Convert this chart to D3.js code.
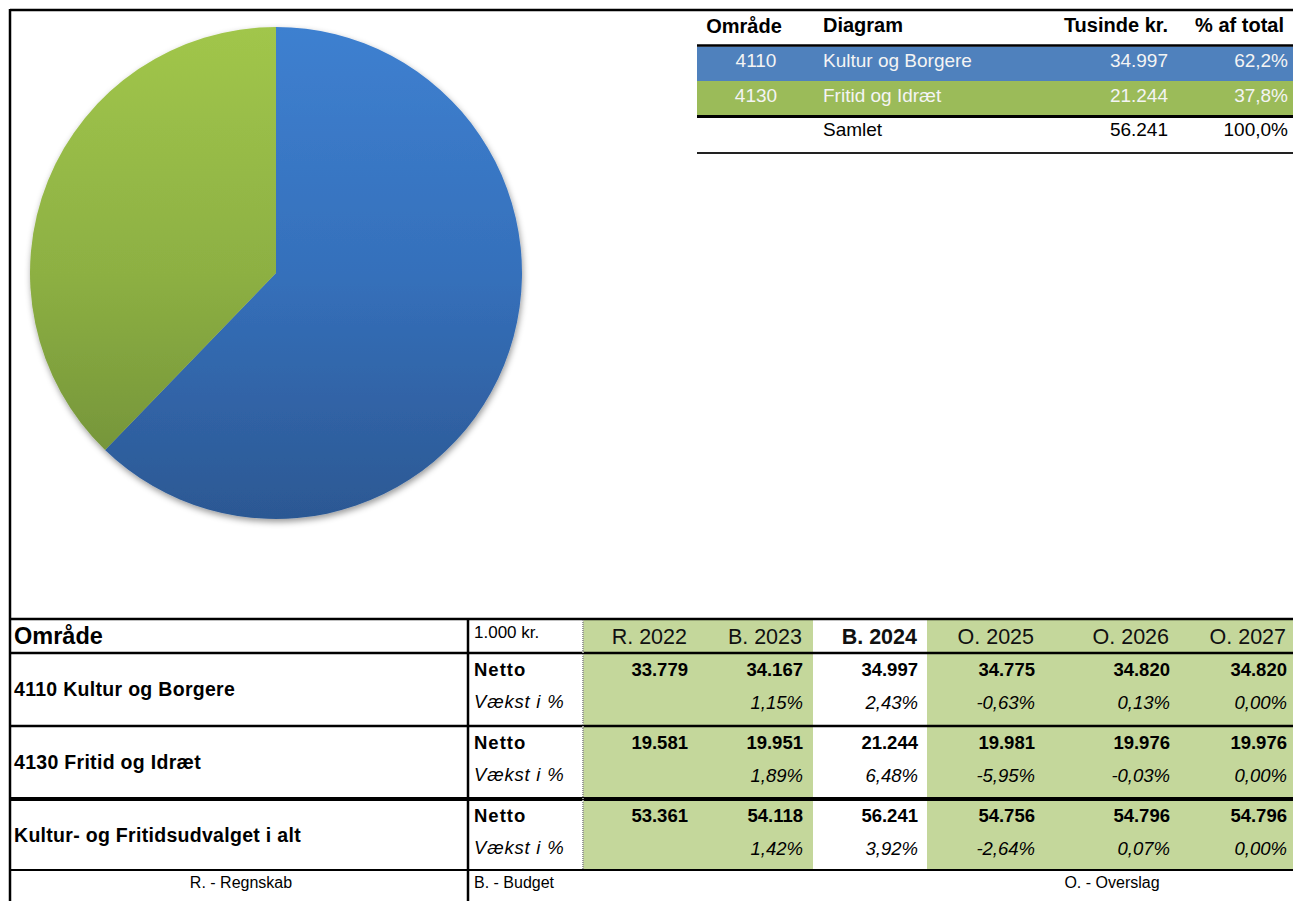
<!DOCTYPE html>
<html>
<head>
<meta charset="utf-8">
<script src="https://cdn.jsdelivr.net/npm/d3@7"></script>
<style>
  body { margin: 0; background: #fff; }
  svg { display: block; font-family: "Liberation Sans", Arial, sans-serif; }
  .line { stroke: #000; }
</style>
</head>
<body>
<div id="chart"></div>
<script>
// pie / top table data
const areaCodes = ["4110", "4130"];
const areaNames = ["Kultur og Borgere", "Fritid og Idræt"];
const areaAmounts = [34997, 21244];
const totalLabel = "Samlet";

// bottom table data
const years = ["R. 2022", "B. 2023", "B. 2024", "O. 2025", "O. 2026", "O. 2027"];
const rowLabels = ["4110 Kultur og Borgere", "4130 Fritid og Idræt", "Kultur- og Fritidsudvalget i alt"];
const nettoKultur = [33779, 34167, 34997, 34775, 34820, 34820];
const nettoFritid = [19581, 19951, 21244, 19981, 19976, 19976];
const nettoTotal = [53361, 54118, 56241, 54756, 54796, 54796];
const growthKultur = [null, 1.15, 2.43, -0.63, 0.13, 0.00];
const growthFritid = [null, 1.89, 6.48, -5.95, -0.03, 0.00];
const growthTotal = [null, 1.42, 3.92, -2.64, 0.07, 0.00];
const footNotes = ["R. - Regnskab", "B. - Budget", "O. - Overslag"];

const width = 1293, height = 901;
const da = d3.formatLocale({ decimal: ",", thousands: ".", grouping: [3], currency: ["", " kr."], minus: "-" });
const fmtNum = da.format(",d");
const fmtPct1 = da.format(".1%");
const fmtPct2 = v => da.format(".2f")(v) + "%";

const svg = d3.select("#chart").append("svg")
    .attr("width", width)
    .attr("height", height);

const radius = 246;
const defs = svg.append("defs");
function grad(id, stops) {
    // pie paths are drawn around (0,0), so the gradient runs -r..r
    const g = defs.append("linearGradient").attr("id", id)
        .attr("gradientUnits", "userSpaceOnUse")
        .attr("x1", 0).attr("x2", 0).attr("y1", -radius).attr("y2", radius);
    stops.forEach(s => g.append("stop").attr("offset", s[0]).attr("stop-color", s[1]));
}
grad("g-blue", [[0, "#3e80d0"], [0.5, "#3570bb"], [1, "#2c5893"]]);
grad("g-green", [[0, "#a1c64b"], [0.5, "#8db043"], [0.86, "#76963a"], [1, "#6f8d36"]]);
defs.append("filter").attr("id", "shadow")
    .attr("x", "-10%").attr("y", "-10%").attr("width", "130%").attr("height", "130%")
    .append("feDropShadow")
    .attr("dx", 1).attr("dy", 3).attr("stdDeviation", 3)
    .attr("flood-color", "#000").attr("flood-opacity", 0.4);

// outer frame
svg.append("line").attr("class", "line").attr("x1", 10).attr("x2", width).attr("y1", 10).attr("y2", 10).attr("stroke-width", 2.5);
svg.append("line").attr("class", "line").attr("x1", 10).attr("x2", 10).attr("y1", 9).attr("y2", height).attr("stroke-width", 2.5);

// pie
const pie = d3.pie().sort(null).value(d => d)(areaAmounts);
const arc = d3.arc().innerRadius(0).outerRadius(radius);
const fills = ["url(#g-blue)", "url(#g-green)"];
svg.append("g")
    .attr("transform", "translate(276,273)")
    .attr("filter", "url(#shadow)")
    .selectAll("path")
    .data(pie)
    .join("path")
    .attr("d", arc)
    .attr("fill", (d, i) => fills[i]);

// top table
const total = d3.sum(areaAmounts);
const topTable = svg.append("g").attr("font-size", 19);
const tx0 = 697;
const rowColors = ["#4f81bd", "#9bbb59"];
const topRowY = d3.scaleBand().domain(areaCodes).range([46.5, 115.5]);

topTable.selectAll("rect").data(areaCodes).join("rect")
    .attr("x", tx0).attr("width", width - tx0)
    .attr("y", d => topRowY(d)).attr("height", topRowY.bandwidth())
    .attr("fill", (d, i) => rowColors[i]);

const hdr = topTable.append("g").attr("font-weight", "bold").attr("font-size", 20);
hdr.append("text").attr("x", 744).attr("y", 33).attr("text-anchor", "middle").text("Område");
hdr.append("text").attr("x", 823).attr("y", 32).text("Diagram");
hdr.append("text").attr("x", 1168).attr("y", 32).attr("text-anchor", "end").text("Tusinde kr.");
hdr.append("text").attr("x", 1284).attr("y", 32).attr("text-anchor", "end").text("% af total");

areaCodes.forEach((code, i) => {
    const y = topRowY(code) + topRowY.bandwidth() / 2 + 3.5;
    const g = topTable.append("g").attr("fill", "#f4f4f4");
    g.append("text").attr("x", 756).attr("y", y).attr("text-anchor", "middle").text(code);
    g.append("text").attr("x", 823).attr("y", y).text(areaNames[i]);
    g.append("text").attr("x", 1168).attr("y", y).attr("text-anchor", "end").text(fmtNum(areaAmounts[i]));
    g.append("text").attr("x", 1288).attr("y", y).attr("text-anchor", "end").text(fmtPct1(areaAmounts[i] / total));
});
topTable.append("text").attr("x", 823).attr("y", 136).text(totalLabel);
topTable.append("text").attr("x", 1168).attr("y", 136).attr("text-anchor", "end").text(fmtNum(total));
topTable.append("text").attr("x", 1288).attr("y", 136).attr("text-anchor", "end").text(fmtPct1(1));

topTable.append("line").attr("class", "line").attr("x1", tx0).attr("x2", width).attr("y1", 45.5).attr("y2", 45.5).attr("stroke-width", 2.5);
topTable.append("line").attr("class", "line").attr("x1", tx0).attr("x2", width).attr("y1", 116.5).attr("y2", 116.5).attr("stroke-width", 3);
topTable.append("line").attr("x1", tx0).attr("x2", width).attr("y1", 153).attr("y2", 153).attr("stroke", "#222").attr("stroke-width", 2);

// bottom table
const colEdges = [583, 697, 812, 927, 1044, 1179, 1296];
const colLeft = d3.scaleOrdinal().domain(years).range(colEdges.slice(0, 6));
const colRight = d3.scaleOrdinal().domain(years).range(colEdges.slice(1));
const rowTop = d3.scaleOrdinal().domain(rowLabels).range([653, 726, 799]);
const rowH = 73;
const tableTop = 619, tableBottom = 870;
const bt = svg.append("g");

// green fill for columns (B. 2024 stays white)
bt.selectAll("rect.col").data(years.filter(y => y !== "B. 2024")).join("rect")
    .attr("class", "col")
    .attr("x", d => colLeft(d)).attr("width", d => colRight(d) - colLeft(d) + 1)
    .attr("y", tableTop).attr("height", tableBottom - tableTop)
    .attr("fill", "#c4d79b");

// header row
bt.append("text").attr("x", 14).attr("y", 644).attr("font-size", 23.5).attr("font-weight", "bold").text("Område");
bt.append("text").attr("x", 474).attr("y", 638).attr("font-size", 17).text("1.000 kr.");
bt.selectAll("text.year").data(years).join("text")
    .attr("class", "year")
    .attr("x", d => colRight(d) - 10)
    .attr("y", 644)
    .attr("text-anchor", "end")
    .attr("font-size", 21.5)
    .attr("font-weight", d => d === "B. 2024" ? "bold" : "normal")
    .attr("fill", "#111")
    .text(d => d);

const tableRows = [
    { label: rowLabels[0], netto: nettoKultur, growth: growthKultur },
    { label: rowLabels[1], netto: nettoFritid, growth: growthFritid },
    { label: rowLabels[2], netto: nettoTotal, growth: growthTotal }
];

tableRows.forEach(r => {
    const y0 = rowTop(r.label);
    const g = bt.append("g").attr("font-size", 18.5);
    g.append("text").attr("x", 14).attr("y", y0 + rowH / 2 + 6).attr("font-weight", "bold").attr("font-size", 19.5).attr("letter-spacing", 0.3).text(r.label);
    g.append("text").attr("x", 474).attr("y", y0 + 23).attr("font-weight", "bold").attr("letter-spacing", 1).text("Netto");
    g.append("text").attr("x", 474).attr("y", y0 + 55).attr("font-style", "italic").attr("letter-spacing", 0.8).text("Vækst i %");
    g.selectAll("text.netto").data(r.netto).join("text")
        .attr("class", "netto")
        .attr("x", (d, i) => colRight(years[i]) - 9)
        .attr("y", y0 + 23)
        .attr("text-anchor", "end")
        .attr("font-weight", "bold")
        .text(d => fmtNum(d));
    g.selectAll("text.growth").data(r.growth).join("text")
        .attr("class", "growth")
        .attr("x", (d, i) => colRight(years[i]) - 9)
        .attr("y", y0 + 56)
        .attr("text-anchor", "end")
        .attr("font-style", "italic")
        .text(d => d === null ? "" : fmtPct2(d));
});

// footer
const foot = bt.append("g").attr("font-size", 16);
foot.append("text").attr("x", 241).attr("y", 888).attr("text-anchor", "middle").text(footNotes[0]);
foot.append("text").attr("x", 474).attr("y", 888).text(footNotes[1]);
foot.append("text").attr("x", 1112).attr("y", 888).attr("text-anchor", "middle").text(footNotes[2]);

// grid lines
const hLines = [[tableTop, 2.5], [653, 2.5], [726, 2.5], [799, 4], [870, 2]];
bt.selectAll("line.h").data(hLines).join("line")
    .attr("class", "line h")
    .attr("x1", 10).attr("x2", width)
    .attr("y1", d => d[0]).attr("y2", d => d[0])
    .attr("stroke-width", d => d[1]);
bt.append("line").attr("class", "line").attr("x1", 468).attr("x2", 468).attr("y1", tableTop).attr("y2", height).attr("stroke-width", 2.5);
bt.append("line").attr("x1", 583).attr("x2", 583).attr("y1", tableTop + 1).attr("y2", tableBottom - 1)
    .attr("stroke", "#999").attr("stroke-width", 2).attr("stroke-dasharray", "1,1");
</script>
</body>
</html>
